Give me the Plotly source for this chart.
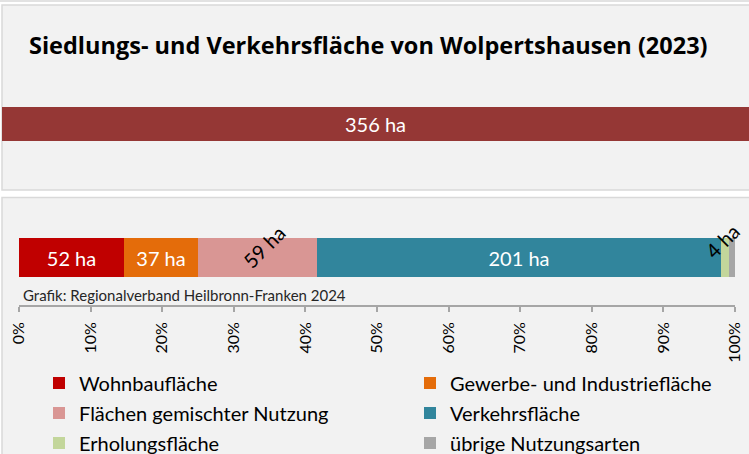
import plotly.graph_objects as go

# --- data ---------------------------------------------------------------
title_text = "Siedlungs- und Verkehrsfläche von Wolpertshausen (2023)"
source_text = "Grafik: Regionalverband Heilbronn-Franken 2024"
total_ha = 356

categories = [
    "Wohnbaufläche",
    "Gewerbe- und Industriefläche",
    "Flächen gemischter Nutzung",
    "Verkehrsfläche",
    "Erholungsfläche",
    "übrige Nutzungsarten",
]
hectares = [52, 37, 59, 201, 4, 3]
colors = ["#C00000", "#E46C0A", "#D99694", "#31859C", "#C3D69B", "#A6A6A6"]
tick_values = [0, 10, 20, 30, 40, 50, 60, 70, 80, 90, 100]
tick_labels = [f"{v}%" for v in tick_values]

# --- layout helpers -----------------------------------------------------
W, H = 749, 454
FONT = "Lato, sans-serif"
TITLE_FONT = "'Open Sans', sans-serif"
PANEL_BG = "#F2F2F2"
BORDER = "#D9D9D9"


def px(x):
    return x / W


def py(y):
    return 1 - y / H


shares = [v / sum(hectares) * 100 for v in hectares]

fig = go.Figure()

# total area bar (top panel)
fig.add_trace(go.Bar(
    x=[total_ha], y=[0], orientation="h", width=0.393,
    marker=dict(color="#953735", line=dict(width=0)),
    text=[f"{total_ha} ha"], textposition="inside", insidetextanchor="middle",
    textangle=0, textfont=dict(family=FONT, size=20, color="white"),
    xaxis="x", yaxis="y", showlegend=False, hoverinfo="skip",
))

# stacked composition bar (bottom panel)
rotated = {"Flächen gemischter Nutzung": (6, 11), "Erholungsfläche": (-3, 17)}
unlabeled = {"übrige Nutzungsarten"}
legend_ids = ["legend", "legend", "legend2", "legend2", "legend3", "legend3"]

cum = 0.0
annotations = []
for name, ha, share, col, lg in zip(categories, hectares, shares, colors, legend_ids):
    label = f"{ha} ha"
    plain = name not in rotated and name not in unlabeled
    fig.add_trace(go.Bar(
        x=[share], y=[0], orientation="h", width=0.41, name=name,
        marker=dict(color=col, line=dict(width=0)),
        text=[label if plain else ""], textposition="inside",
        insidetextanchor="middle", textangle=0,
        textfont=dict(family=FONT, size=20, color="white"),
        xaxis="x2", yaxis="y2", legend=lg, hoverinfo="skip",
    ))
    if name in rotated:
        dx, dy = rotated[name]
        annotations.append(dict(
            x=cum + share / 2, y=0, xref="x2", yref="y2", text=label,
            showarrow=False, textangle=-45, xshift=dx, yshift=dy,
            font=dict(family=FONT, size=20, color="black"),
        ))
    cum += share

annotations += [
    dict(x=px(27), y=py(45), xref="paper", yref="paper", xanchor="left",
         yanchor="middle", text=f"<b>{title_text}</b>", showarrow=False,
         font=dict(family=TITLE_FONT, size=23.5, color="black")),
    dict(x=px(21), y=py(295), xref="paper", yref="paper", xanchor="left",
         yanchor="middle", text=source_text, showarrow=False,
         font=dict(family=FONT, size=15, color="#262626")),
]

shapes = [
    dict(type="line", xref="paper", yref="paper", x0=0, x1=1, y0=py(1), y1=py(1),
         line=dict(color=BORDER, width=1.5), layer="below"),
    dict(type="rect", xref="paper", yref="paper", x0=px(2), x1=px(770),
         y0=py(190), y1=py(5), fillcolor=PANEL_BG,
         line=dict(color=BORDER, width=1.5), layer="below"),
    dict(type="rect", xref="paper", yref="paper", x0=px(2), x1=px(770),
         y0=py(480), y1=py(197.5), fillcolor=PANEL_BG,
         line=dict(color=BORDER, width=1.5), layer="below"),
]

legend_style = dict(
    orientation="h", xanchor="left", yanchor="middle", x=px(39),
    entrywidth=326, entrywidthmode="pixels", bgcolor="rgba(0,0,0,0)",
    font=dict(family=FONT, size=20, color="black"), itemclick=False,
    itemdoubleclick=False, traceorder="normal", maxheight=80,
)

fig.update_layout(
    width=W, height=H,
    margin=dict(l=0, r=0, t=0, b=0, autoexpand=False),
    paper_bgcolor="white", plot_bgcolor="white",
    barmode="stack", bargap=0,
    font=dict(family=FONT, color="black"),
    xaxis=dict(domain=[px(2), 1], range=[0, total_ha], visible=False,
               fixedrange=True),
    yaxis=dict(domain=[py(166), py(82)], range=[-0.5, 0.5], visible=False,
               fixedrange=True),
    xaxis2=dict(domain=[px(19), px(735)], range=[0, 100], anchor="y2",
                tickmode="array", tickvals=tick_values, ticktext=tick_labels,
                tickangle=-90, automargin=False, ticklabelstandoff=4,
                ticks="outside", ticklen=5, tickwidth=1.5, tickcolor="#A6A6A6",
                showline=True, linecolor="#A6A6A6", linewidth=1.5,
                showgrid=False, zeroline=False, fixedrange=True,
                tickfont=dict(family=FONT, size=16, color="black")),
    yaxis2=dict(domain=[py(305), py(210)], range=[-0.5, 0.5], anchor="x2",
                visible=False, fixedrange=True),
    legend=dict(legend_style, y=py(383)),
    legend2=dict(legend_style, y=py(413)),
    legend3=dict(legend_style, y=py(443)),
    annotations=annotations,
    shapes=shapes,
)

fig.write_html("out.html")
